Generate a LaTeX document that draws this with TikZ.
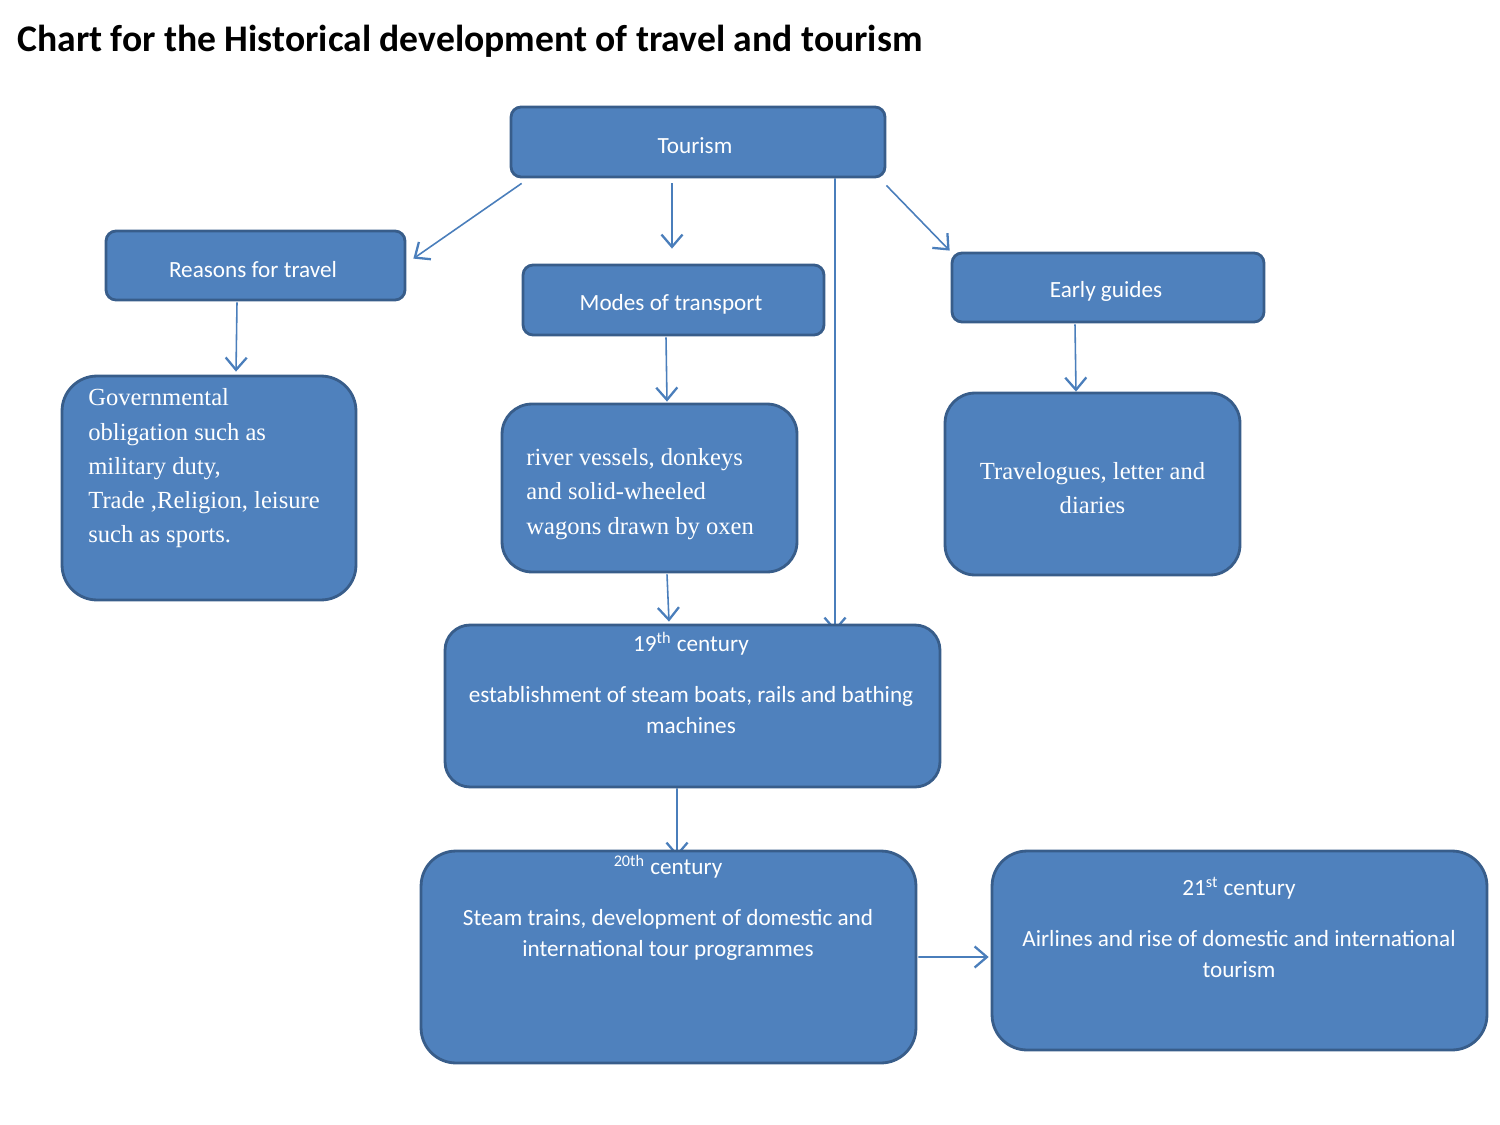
\documentclass[tikz,border=0pt]{standalone}
\usepackage{fontspec}
\setmainfont{Liberation Serif}
\newfontfamily\carlito{Carlito}
\usepackage{xcolor}
\usepackage{tikz}
\usetikzlibrary{arrows.meta,positioning,backgrounds}

\definecolor{boxfill}{HTML}{4F81BD}
\definecolor{boxline}{HTML}{385D8A}
\definecolor{arrline}{HTML}{4A7EBB}

\begin{document}
\begin{tikzpicture}[x=0.02cm,y=-0.02cm,
  box/.style={draw=boxline,fill=boxfill,line width=1.6pt,rounded corners=#1,text=white,inner sep=0pt},
  box/.default=0.2cm,
  txt/.style={text=white,inner sep=0pt},
  calib/.style={font=\carlito\fontsize{13.2}{18}\selectfont},
  serif/.style={font=\fontsize{14}{19.5}\selectfont},
  arr/.style={draw=arrline,line width=0.9pt,-{Straight Barb[length=7pt,width=12pt,line width=1.3pt]}}]
  \useasboundingbox (0,0) rectangle (1500,1125);

  % title
  \node[anchor=base west,inner sep=0pt,font=\carlito\bfseries\fontsize{21.4}{25}\selectfont] (title) at (17,52)
    {Chart for the Historical development of travel and tourism};

  % top row
  \node[box,minimum width=7.48cm,minimum height=1.4cm] (tour) at (698,142) {};
  \node[txt,calib] (tourt) at (695,146) {Tourism};
  \node[box,minimum width=5.98cm,minimum height=1.38cm] (reason) at (255.5,265.5) {};
  \node[txt,calib] (reasont) at (253,269.5) {Reasons for travel};
  \node[box,minimum width=6.02cm,minimum height=1.4cm] (modes) at (673.5,300) {};
  \node[txt,calib] (modest) at (671,304) {Modes of transport};
  \node[box,minimum width=6.24cm,minimum height=1.38cm] (guides) at (1108,287.5) {};
  \node[txt,calib] (guidest) at (1106,291.5) {Early guides};

  % second row
  \node[box=0.7cm,minimum width=5.88cm,minimum height=4.48cm] (govt) at (209,488) {};
  \node[txt,serif,anchor=west,align=left] (govtt) at (88,468.5)
    {Governmental\\obligation such as\\military duty,\\Trade ,Religion, leisure\\such as sports.};
  \node[box=0.6cm,minimum width=5.9cm,minimum height=3.36cm] (river) at (649.5,488) {};
  \node[txt,serif,anchor=west,align=left] (rivert) at (526,494)
    {river vessels, donkeys\\and solid-wheeled\\wagons drawn by oxen};
  \node[box=0.6cm,minimum width=5.9cm,minimum height=3.64cm] (travel) at (1092.5,484) {};
  \node[txt,serif,align=center] (travelt) at (1092.5,488)
    {Travelogues, letter and\\diaries};

  % centuries
  \node[box=0.5cm,minimum width=9.9cm,minimum height=3.24cm] (c19) at (692.5,706) {};
  \node[txt,calib,align=center] (c19t) at (691,683)
    {19\textsuperscript{th} century\\[11pt]establishment of steam boats, rails and bathing\\machines};
  \node[box=0.7cm,minimum width=9.9cm,minimum height=4.24cm] (c20) at (668.5,957) {};
  \node[txt,calib,align=center] (c20t) at (668,908)
    {\textsuperscript{20th} century\\[11pt]Steam trains, development of domestic and\\international tour programmes};
  \node[box=0.7cm,minimum width=9.9cm,minimum height=3.98cm] (c21) at (1239.5,950.5) {};
  \node[txt,calib,align=center] (c21t) at (1239,927.5)
    {21\textsuperscript{st} century\\[11pt]Airlines and rise of domestic and international\\tourism};

  % connectors
  \begin{scope}[on background layer]
  \draw[arr] ([shift={(12,5)}]tour.south west) -- ([shift={(7,29)}]reason.north east);
  \draw[arr] ([shift={(-26,5)}]tour.south) -- ([shift={(-1.5,-15)}]modes.north);
  \draw[arr] ([shift={(137,0)}]tour.south) -- ([shift={(142.5,8)}]c19.north);
  \draw[arr] ([shift={(0,7)}]tour.south east) -- ([shift={(-1,-1)}]guides.north west);
  \draw[arr] ([shift={(-18.5,1)}]reason.south) -- ([shift={(27,-3)}]govt.north);
  \draw[arr] ([shift={(-7.5,1)}]modes.south) -- ([shift={(17.5,-1)}]river.north);
  \draw[arr] ([shift={(-33,1)}]guides.south) -- ([shift={(-16.5,0)}]travel.north);
  \draw[arr] ([shift={(17.5,1)}]river.south) -- ([shift={(-23.5,-2)}]c19.north);
  \draw[arr] ([shift={(-15.5,0)}]c19.south) -- ([shift={(8.5,7)}]c20.north);
  \draw[arr] ([shift={(1,0)}]c20.east) -- ([shift={(-2,6.5)}]c21.west);
  \end{scope}
\end{tikzpicture}
\end{document}
